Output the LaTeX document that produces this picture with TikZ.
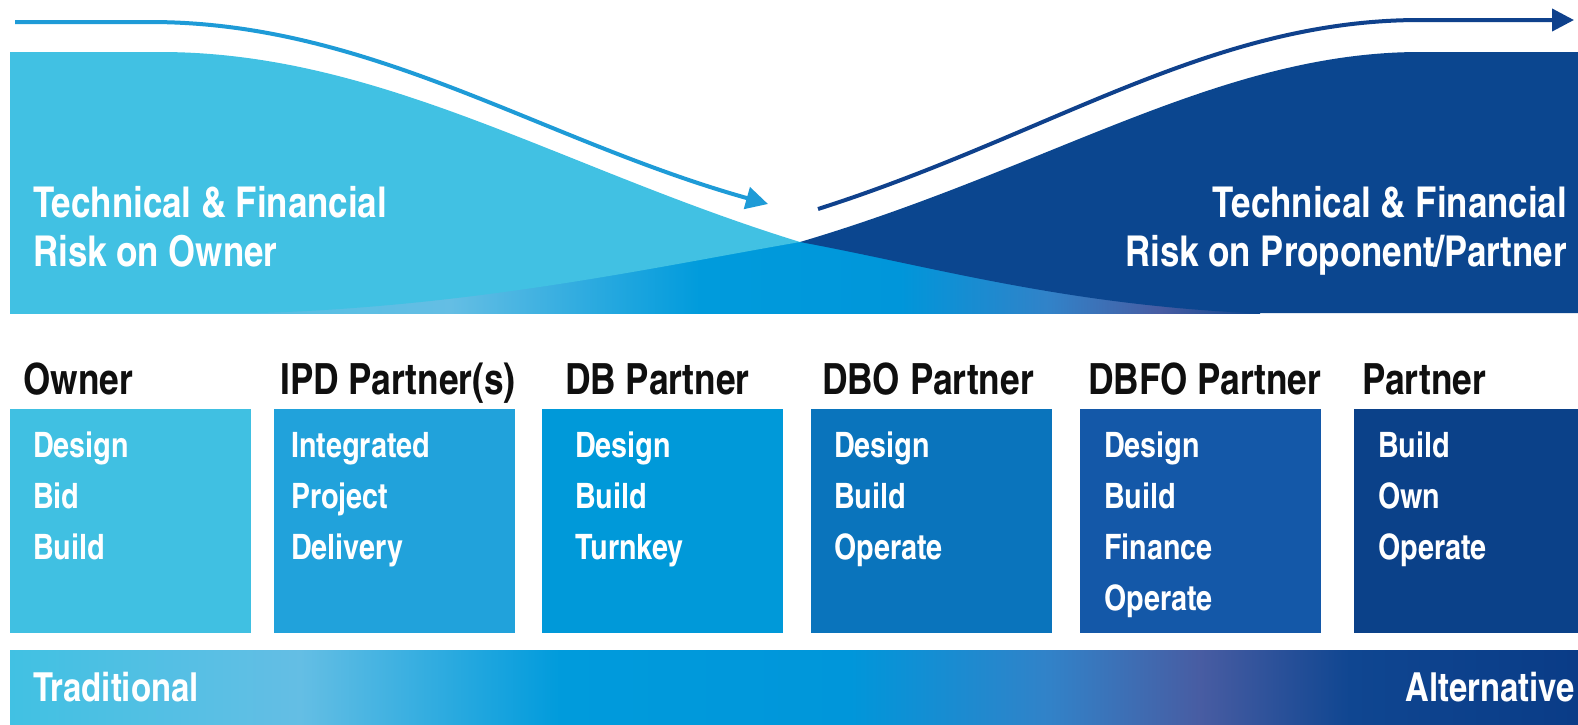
\documentclass[tikz,border=0pt]{standalone}
\usepackage{fontspec}
\usetikzlibrary{arrows.meta}
\newfontfamily\cnb{texgyreheroscn-bold}[Extension=.otf]
\definecolor{cyanA}{RGB}{65,193,227}
\definecolor{navyA}{RGB}{11,70,143}
\definecolor{boxA}{RGB}{64,192,226}
\definecolor{boxB}{RGB}{33,162,219}
\definecolor{boxC}{RGB}{0,153,217}
\definecolor{boxD}{RGB}{10,116,188}
\definecolor{boxE}{RGB}{20,88,168}
\definecolor{boxF}{RGB}{11,65,137}
\definecolor{gA}{RGB}{65,193,227}
\definecolor{gB}{RGB}{100,190,228}
\definecolor{gC}{RGB}{0,155,220}
\definecolor{gD}{RGB}{0,150,218}
\definecolor{gE}{RGB}{50,130,200}
\definecolor{gF}{RGB}{72,92,162}
\definecolor{gG}{RGB}{15,70,145}
\definecolor{gH}{RGB}{10,60,135}
\definecolor{arrowL}{RGB}{30,155,215}
\definecolor{arrowR}{RGB}{15,65,140}
\definecolor{hdr}{RGB}{15,15,15}
\begin{document}
\begin{tikzpicture}[x=1pt,y=-1pt,
  toplbl/.style={font=\cnb\fontsize{42.5}{49}\selectfont, text=white, inner sep=0pt},
  hdrlbl/.style={font=\cnb\fontsize{43}{48}\selectfont, text=hdr, inner sep=0pt, anchor=base west},
  boxlbl/.style={font=\cnb\fontsize{35}{40}\selectfont, text=white, inner sep=0pt, anchor=base west},
  bandlbl/.style={font=\cnb\fontsize{40}{44}\selectfont, text=white, inner sep=0pt},
  boxnode/.style={fill=#1, draw=none, inner sep=0pt, minimum height=224pt, anchor=north west},
  arrowlines/.style={line width=4pt, -{Triangle[length=22pt,width=22pt]}}
]
\useasboundingbox (0,0) rectangle (1578,724);
\fill[white] (0,0) rectangle (1578,724);

% gradient under the two risk shapes
\shade[left color=gA, right color=gB] (10,242) rectangle (451,313);
\shade[left color=gB, right color=gC] (450,242) rectangle (701,313);
\shade[left color=gC, right color=gD] (700,242) rectangle (901,313);
\shade[left color=gD, right color=gE] (900,242) rectangle (1051,313);
\shade[left color=gE, right color=gF] (1050,242) rectangle (1161,313);
\shade[left color=gF, right color=navyA] (1160,242) rectangle (1260,313);

% owner risk shape
\fill[cyanA] (10,52) -- (160,52) .. controls (380,52) and (560,168) .. (800,242)
  .. controls (660,266) and (480,306) .. (260,313) -- (10,313) -- cycle;
% partner risk shape
\fill[navyA] (800,242) .. controls (1050,168) and (1220,52) .. (1420,52) -- (1578,52)
  -- (1578,313) -- (1250,313) .. controls (1060,304) and (930,266) .. (800,242) -- cycle;

% arrows
\coordinate (la0) at (15,22);
\coordinate (la1) at (768,204);
\coordinate (ra0) at (818,209);
\coordinate (ra1) at (1574,20);
\draw[arrowlines, draw=arrowL] (la0) -- (150,22) .. controls (370,22) and (540,140) .. (la1);
\draw[arrowlines, draw=arrowR] (ra0) .. controls (1050,135) and (1210,20) .. (1420,20) -- (ra1);

% risk labels
\node[toplbl, anchor=base west] (tl1) at (33,217) {Technical \& Financial};
\node[toplbl, anchor=base west] (tl2) at (33,266) {Risk on Owner};
\node[toplbl, anchor=base east] (tr1) at (1567,217) {Technical \& Financial};
\node[toplbl, anchor=base east] (tr2) at (1567,266) {Risk on Proponent/Partner};

% headers
\node[hdrlbl] (h1) at (23,394) {Owner};
\node[hdrlbl] (h2) at (280,394) {IPD Partner(s)};
\node[hdrlbl] (h3) at (565,394) {DB Partner};
\node[hdrlbl] (h4) at (822,394) {DBO Partner};
\node[hdrlbl] (h5) at (1088,394) {DBFO Partner};
\node[hdrlbl] (h6) at (1362,394) {Partner};

% boxes
\node[boxnode=boxA, minimum width=241pt] (b1) at (10,409) {};
\node[boxnode=boxB, minimum width=241pt] (b2) at (274,409) {};
\node[boxnode=boxC, minimum width=241pt] (b3) at (542,409) {};
\node[boxnode=boxD, minimum width=241pt] (b4) at (811,409) {};
\node[boxnode=boxE, minimum width=241pt] (b5) at (1080,409) {};
\node[boxnode=boxF, minimum width=224pt] (b6) at (1354,409) {};

% box texts
\node[boxlbl] (b1a) at (33,457) {Design};
\node[boxlbl] (b1b) at (33,508) {Bid};
\node[boxlbl] (b1c) at (33,559) {Build};
\node[boxlbl] (b2a) at (291,457) {Integrated};
\node[boxlbl] (b2b) at (291,508) {Project};
\node[boxlbl] (b2c) at (291,559) {Delivery};
\node[boxlbl] (b3a) at (575,457) {Design};
\node[boxlbl] (b3b) at (575,508) {Build};
\node[boxlbl] (b3c) at (575,559) {Turnkey};
\node[boxlbl] (b4a) at (834,457) {Design};
\node[boxlbl] (b4b) at (834,508) {Build};
\node[boxlbl] (b4c) at (834,559) {Operate};
\node[boxlbl] (b5a) at (1104,457) {Design};
\node[boxlbl] (b5b) at (1104,508) {Build};
\node[boxlbl] (b5c) at (1104,559) {Finance};
\node[boxlbl] (b5d) at (1104,610) {Operate};
\node[boxlbl] (b6a) at (1378,457) {Build};
\node[boxlbl] (b6b) at (1378,508) {Own};
\node[boxlbl] (b6c) at (1378,559) {Operate};

% bottom band
\shade[left color=gA, right color=gB] (10,650) rectangle (301,724);
\shade[left color=gB, right color=gC] (300,650) rectangle (561,724);
\shade[left color=gC, right color=gD] (560,650) rectangle (851,724);
\shade[left color=gD, right color=gE] (850,650) rectangle (1051,724);
\shade[left color=gE, right color=gF] (1050,650) rectangle (1201,724);
\shade[left color=gF, right color=gG] (1200,650) rectangle (1351,724);
\shade[left color=gG, right color=gH] (1350,650) rectangle (1578,724);
\node[bandlbl, anchor=base west] (trad) at (33,701) {Traditional};
\node[bandlbl, anchor=base east] (alt) at (1575,701) {Alternative};
\end{tikzpicture}
\end{document}
